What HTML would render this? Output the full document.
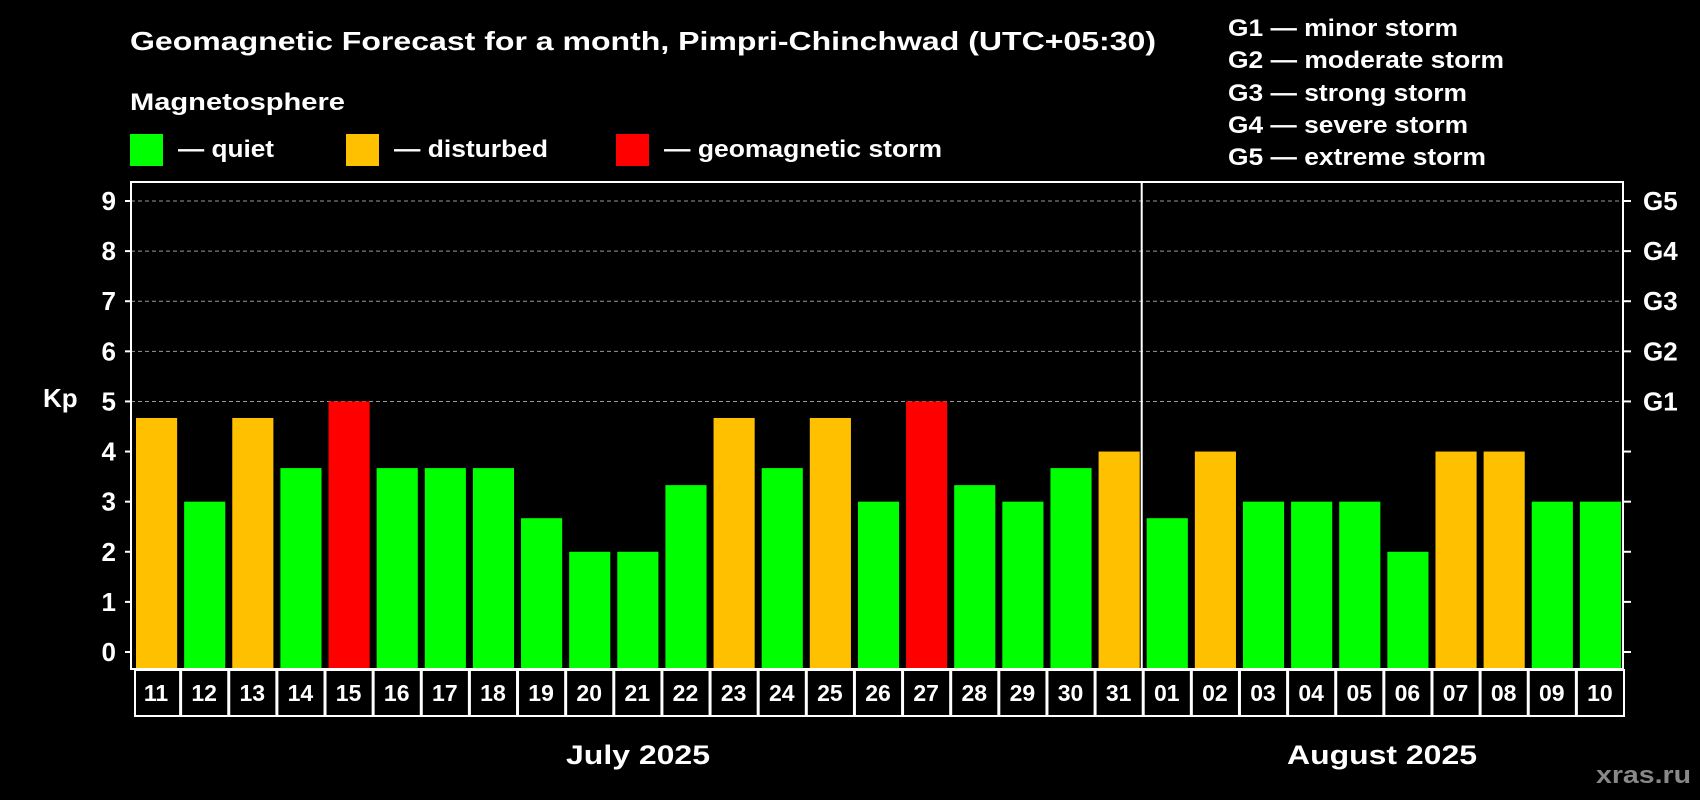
<!DOCTYPE html>
<html><head><meta charset="utf-8"><style>
html,body{margin:0;padding:0;background:#000;}
svg{display:block;font-family:"Liberation Sans",Arial,sans-serif;font-weight:bold;}
</style></head><body>
<svg id="chart" width="1700" height="800" viewBox="0 0 1700 800">
<rect width="1700" height="800" fill="#000"/>
<text x="130" y="50" font-size="26" fill="#fff" textLength="1026" lengthAdjust="spacingAndGlyphs">Geomagnetic Forecast for a month, Pimpri-Chinchwad (UTC+05:30)</text>
<text x="130" y="110" font-size="24" fill="#fff" textLength="215" lengthAdjust="spacingAndGlyphs">Magnetosphere</text>
<rect x="130" y="134" width="33" height="32" fill="#00ff00"/>
<text x="178" y="157" font-size="24" fill="#fff" textLength="96" lengthAdjust="spacingAndGlyphs">— quiet</text>
<rect x="346" y="134" width="33" height="32" fill="#ffc000"/>
<text x="394" y="157" font-size="24" fill="#fff" textLength="154" lengthAdjust="spacingAndGlyphs">— disturbed</text>
<rect x="616" y="134" width="33" height="32" fill="#ff0000"/>
<text x="664" y="157" font-size="24" fill="#fff" textLength="278" lengthAdjust="spacingAndGlyphs">— geomagnetic storm</text>
<g font-size="24" fill="#fff">
<text x="1228" y="36" textLength="230" lengthAdjust="spacingAndGlyphs">G1 — minor storm</text>
<text x="1228" y="68" textLength="276" lengthAdjust="spacingAndGlyphs">G2 — moderate storm</text>
<text x="1228" y="101" textLength="239" lengthAdjust="spacingAndGlyphs">G3 — strong storm</text>
<text x="1228" y="133" textLength="240" lengthAdjust="spacingAndGlyphs">G4 — severe storm</text>
<text x="1228" y="165" textLength="258" lengthAdjust="spacingAndGlyphs">G5 — extreme storm</text>
</g>
<g id="grid"></g>
<g id="bars"></g>
<g id="axes"></g>
<text x="43" y="407" font-size="26" fill="#fff">Kp</text>
<text x="566" y="764" font-size="27" fill="#fff" textLength="144" lengthAdjust="spacingAndGlyphs">July 2025</text>
<text x="1287" y="764" font-size="27" fill="#fff" textLength="190" lengthAdjust="spacingAndGlyphs">August 2025</text>
<text x="1596" y="783" font-size="24" fill="#888" textLength="95" lengthAdjust="spacingAndGlyphs">xras.ru</text>
</svg>
<script>
const days = ["11","12","13","14","15","16","17","18","19","20","21","22","23","24","25","26","27","28","29","30","31","01","02","03","04","05","06","07","08","09","10"];
const kpValues = [4.67,3,4.67,3.67,5,3.67,3.67,3.67,2.67,2,2,3.33,4.67,3.67,4.67,3,5,3.33,3,3.67,4,2.67,4,3,3,3,2,4,4,3,3];
const yTicks = [0,1,2,3,4,5,6,7,8,9];
const gLabels = ["G1","G2","G3","G4","G5"];
const monthSplitIndex = 21;

const NS = "http://www.w3.org/2000/svg";
const L = 131, R = 1623, T = 182, B = 669, Y0 = 652, Y9 = 201;
const slot = (R - L) / days.length;
function y(v){ return Y0 - v * (Y0 - Y9) / 9; }
function x(i){ return L + i * slot; }
function color(v){ return v >= 5 ? "#ff0000" : (v >= 4 ? "#ffc000" : "#00ff00"); }
function mk(tag, attrs, parent){ const e = document.createElementNS(NS, tag); for (const k in attrs) e.setAttribute(k, attrs[k]); parent.appendChild(e); return e; }

const grid = document.getElementById("grid");
const bars = document.getElementById("bars");
const axes = document.getElementById("axes");

yTicks.forEach(function(t){
  if (t >= 5) {
    const g = mk("line", {x1: L, x2: R, y1: y(t), y2: y(t), stroke: "#999", "stroke-width": 1, "stroke-dasharray": "4,3"}, grid);
    
    
  }
  const tk = mk("line", {x1: L - 6, x2: L, y1: y(t), y2: y(t), stroke: "#fff", "stroke-width": 2}, axes);
  
  
  const tr = mk("line", {x1: R, x2: R + 8, y1: y(t), y2: y(t), stroke: "#fff", "stroke-width": 2}, axes);
  
  
  const lb = mk("text", {x: 116, y: y(t) + 9, "font-size": 26, fill: "#fff", "text-anchor": "end"}, axes);
  lb.textContent = t;
  
  
});
gLabels.forEach(function(g, i){
  const t = mk("text", {x: 1643, y: y(5 + i) + 9, "font-size": 26, fill: "#fff"}, axes);
  t.textContent = g;
  
  
});

kpValues.forEach(function(v, i){
  const r = mk("rect", {x: x(i) + 5, y: y(v), width: slot - 7, height: B - y(v), fill: color(v)}, bars);
  
  
});

const frame = mk("rect", {x: L, y: T, width: R - L, height: B - T, fill: "none", stroke: "#fff", "stroke-width": 2}, axes);


const div = mk("line", {x1: x(monthSplitIndex), x2: x(monthSplitIndex), y1: T, y2: B, stroke: "#fff", "stroke-width": 2}, axes);



const rowTop = 670, rowBot = 716;
days.forEach(function(d, i){
  const x0 = i === 0 ? 135 : x(i) + 2;
  const x1 = x(i + 1) + 1;
  const c = mk("rect", {x: x0, y: rowTop, width: x1 - x0, height: rowBot - rowTop, fill: "none", stroke: "#fff", "stroke-width": 2}, axes);
  
  
  const t = mk("text", {x: x(i) + slot / 2 + 1, y: 701, "font-size": 23, fill: "#fff", "text-anchor": "middle"}, axes);
  t.textContent = d;
  
  
});
</script>
</body></html>
